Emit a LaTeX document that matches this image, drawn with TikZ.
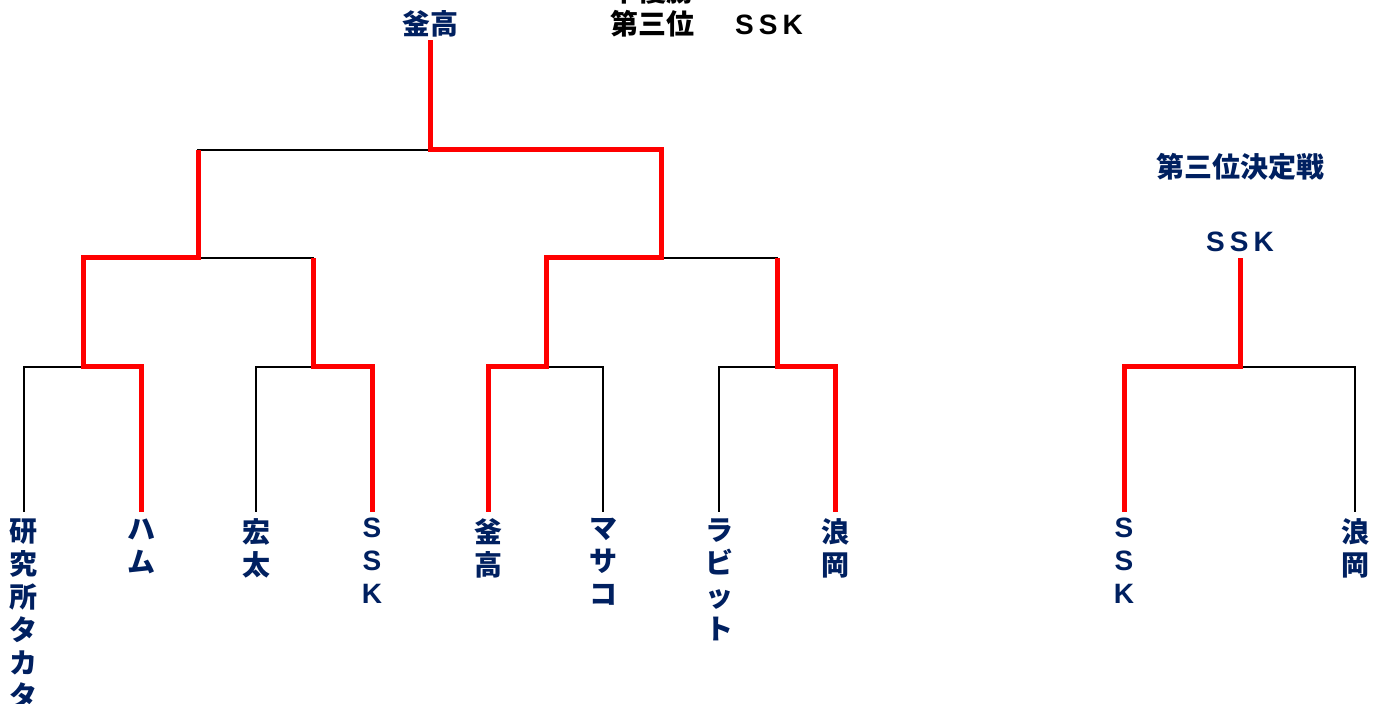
\documentclass[tikz,border=0pt]{standalone}
\usepackage{fontspec}
\setmainfont{Liberation Sans}
\newfontfamily\jp{Noto Sans CJK JP}
\newfontfamily\lt{Liberation Sans}
\newfontfamily\lts{Liberation Sans}[LetterSpace=18]
\definecolor{navy}{HTML}{002060}
\begin{document}
\begin{tikzpicture}[x=0.5pt,y=-0.5pt,
  bk/.style={line width=1pt, black, line join=miter},
  rd/.style={line width=2.5pt, red, line join=miter},
  ttl/.style={inner sep=0pt, anchor=base, font=\jp\bfseries\fontsize{14}{16.5}\selectfont},
  lbl/.style={inner sep=0pt, anchor=north, align=center, text=navy, font=\jp\bfseries\fontsize{14}{16.5}\selectfont},
]
\useasboundingbox[fill=white] (0,0) rectangle (1380,704);
\begin{scope}
\clip (0,0) rectangle (1380,704);
% leaves
\coordinate (L1) at (24,512);
\coordinate (L2) at (141,512);
\coordinate (L3) at (256,512);
\coordinate (L4) at (372,512);
\coordinate (L5) at (488,512);
\coordinate (L6) at (603,512);
\coordinate (L7) at (719,512);
\coordinate (L8) at (835,512);
\coordinate (L9) at (1124,512);
\coordinate (L10) at (1355,512);
% junctions
\coordinate (A1) at (83,367);
\coordinate (A2) at (313,367);
\coordinate (A3) at (546,367);
\coordinate (A4) at (777,367);
\coordinate (A5) at (1240,367);
\coordinate (B1) at (198,258);
\coordinate (B1b) at (313,258);
\coordinate (B2) at (661,258);
\coordinate (B2b) at (777,258);
\coordinate (C1) at (198,150);
\coordinate (C2) at (661,150);
\coordinate (C) at (430,150);
\coordinate (T) at (430,40);
\coordinate (T2) at (1240,258);
% black bracket
\draw[bk] (L1) |- (A1) -| (L2);
\draw[bk] (L3) |- (A2) -| (L4);
\draw[bk] (L5) |- (A3) -| (L6);
\draw[bk] (L7) |- (A4) -| (L8);
\draw[bk] (A1) |- (B1) -| (A2);
\draw[bk] (A3) |- (B2) -| (A4);
\draw[bk] (B1) |- (C) -| (B2);
\draw[bk] (L9) |- (A5) -| (L10);
% red winners
\draw[rd] (L2) |- (A1) |- (B1) -- (C1);
\draw[rd] (L4) |- (A2) -- (B1b);
\draw[rd] (L5) |- (A3) |- (B2) -- (C2) -| (T);
\draw[rd] (L8) |- (A4) -- (B2b);
\draw[rd] (L9) |- (A5) -- (T2);
% titles
\node[ttl, text=black] (ju) at (652,2) {準優勝};
\node[ttl, text=navy] (win) at (430,35) {釜高};
\node[ttl, text=black] (third) at (652,35) {第三位};
\node[ttl, text=black, font=\lts\bfseries\fontsize{14}{16.5}\selectfont] (thirdn) at (769,35) {SSK};
\node[ttl, text=navy] (tpk) at (1240,178) {第三位決定戦};
\node[ttl, text=navy, font=\lts\bfseries\fontsize{14}{16.5}\selectfont] (tpw) at (1240,252) {SSK};
% team labels
\node[lbl] (n1) at (24,518) {研\\究\\所\\タ\\カ\\タ};
\node[lbl] (n2) at (141,518) {ハ\\ム};
\node[lbl] (n3) at (256,518) {宏\\太};
\node[lbl] (n4) at (372,518) {{\lt\bfseries S}\\{\lt\bfseries S}\\{\lt\bfseries K}};
\node[lbl] (n5) at (488,518) {釜\\高};
\node[lbl] (n6) at (603,518) {マ\\サ\\コ};
\node[lbl] (n7) at (719,518) {ラ\\ビ\\ッ\\ト};
\node[lbl] (n8) at (835,518) {浪\\岡};
\node[lbl] (n9) at (1124,518) {{\lt\bfseries S}\\{\lt\bfseries S}\\{\lt\bfseries K}};
\node[lbl] (n10) at (1355,518) {浪\\岡};
\end{scope}
\end{tikzpicture}
\end{document}
